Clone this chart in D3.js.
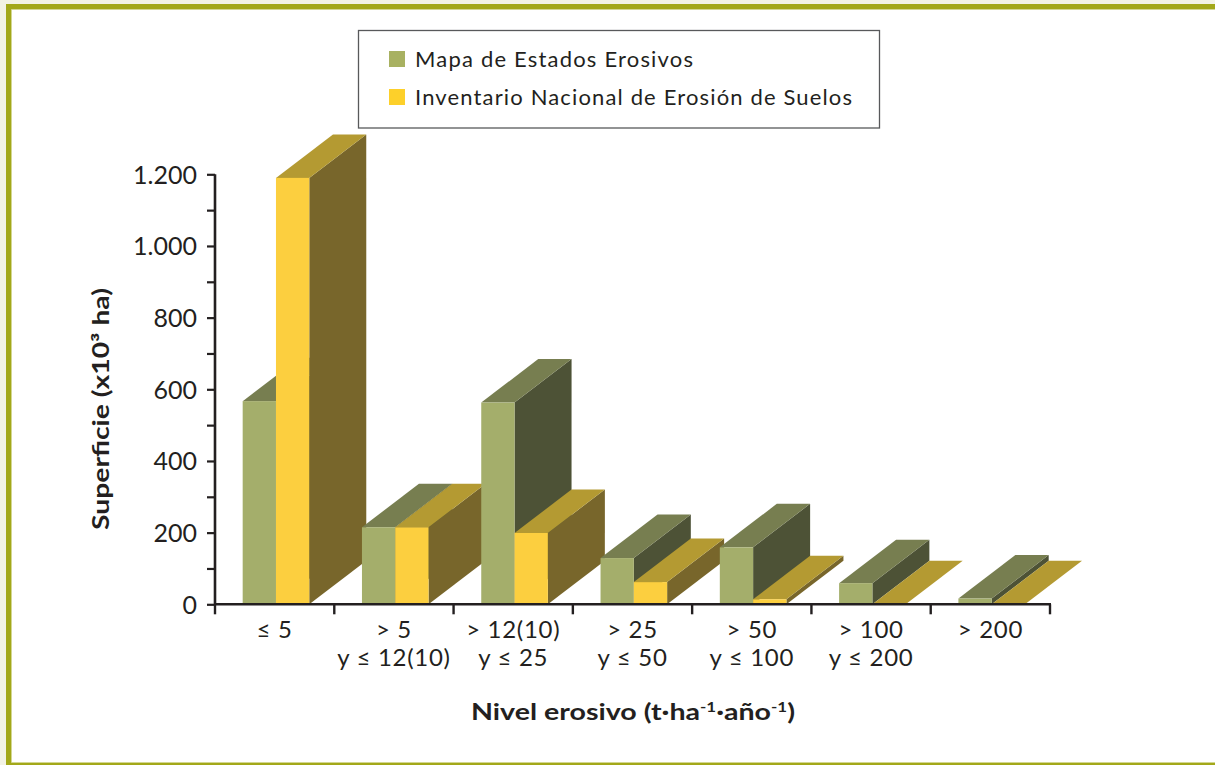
<!DOCTYPE html>
<html>
<head>
<meta charset="utf-8">
<script src="https://cdn.jsdelivr.net/npm/d3@7"></script>
<style>
  html, body { margin: 0; padding: 0; background: #f3f3e4; }
  svg { display: block; }
  text { font-family: "Lato", "Noto Sans", sans-serif; fill: #231f20; }
</style>
</head>
<body>
<svg id="chart" width="1215" height="765"></svg>
<script>
// ---- Data ----
const categoriesLine1 = ["≤ 5", "> 5", "> 12(10)", "> 25", "> 50", "> 100", "> 200"];
const categoriesLine2 = ["", "y ≤ 12(10)", "y ≤ 25", "y ≤ 50", "y ≤ 100", "y ≤ 200", ""];
const seriesNames = ["Mapa de Estados Erosivos", "Inventario Nacional de Erosión de Suelos"];
const mapaValues = [567, 215, 563, 129, 159, 59, 16];
const inventarioValues = [1190, 215, 199, 62, 14, 0, 0];
const yTickValues = [0, 100, 200, 300, 400, 500, 600, 700, 800, 900, 1000, 1100, 1200];
const yLabelValues = [0, 200, 400, 600, 800, 1000, 1200];

// ---- Styles ----
const palette = [
  { front: "#a4ae6b", top: "#777e50", side: "#4d5236", legend: "#a8b161" },
  { front: "#fccf3f", top: "#b49a32", side: "#78662b", legend: "#fdd02a" }
];
const depthX = 57, depthY = -43.5;

const svg = d3.select("#chart");

// frame
svg.append("rect").attr("x", 0).attr("y", 0).attr("width", 1215).attr("height", 765).attr("fill", "#f3f3e4");
svg.append("rect").attr("x", 6).attr("y", 4).attr("width", 1209).attr("height", 761).attr("fill", "#a3a819");
svg.append("rect").attr("x", 11).attr("y", 9).attr("width", 1204).attr("height", 754).attr("fill", "#c9cd78");
svg.append("rect").attr("x", 11.8).attr("y", 9.8).attr("width", 1204).attr("height", 752.4).attr("fill", "#ffffff");

// ---- Scales ----
const x = d3.scaleBand().domain(d3.range(categoriesLine1.length)).range([215, 1050]).paddingInner(0).paddingOuter(0);
const bw = x.bandwidth();
const xSub = d3.scaleBand().domain([0, 1]).range([bw * 0.232, bw * 0.232 + 66.6]).padding(0);
const y = d3.scaleLinear().domain([0, 1200]).range([604.3, 174.3]);

// ---- Bars (3D) ----
const seriesValues = [mapaValues, inventarioValues];
const barsG = svg.append("g");
categoriesLine1.forEach((c, i) => {
  seriesValues.forEach((vals, s) => {
    const v = vals[i];
    const x0 = x(i) + xSub(s);
    const x1 = x0 + xSub.bandwidth();
    const yt = y(v), yb = y(0);
    const col = palette[s];
    const g = barsG.append("g");
    g.append("path")
      .attr("d", `M${x1},${yt}L${x1 + depthX},${yt + depthY}L${x1 + depthX},${yb + depthY}L${x1},${yb}Z`)
      .attr("fill", col.side);
    g.append("path")
      .attr("d", `M${x0},${yt}L${x0 + depthX},${yt + depthY}L${x1 + depthX},${yt + depthY}L${x1},${yt}Z`)
      .attr("fill", col.top);
    if (yb - yt > 0) {
      g.append("rect").attr("x", x0).attr("y", yt).attr("width", x1 - x0).attr("height", yb - yt).attr("fill", col.front);
    }
  });
});

// ---- Axes ----
const esLocale = d3.formatLocale({ decimal: ",", thousands: ".", grouping: [3], currency: ["", ""] });
const fmt = esLocale.format(",");
const yAxis = d3.axisLeft(y).tickValues(yTickValues).tickSize(8).tickSizeOuter(0).tickPadding(10)
  .tickFormat(d => yLabelValues.includes(d) ? fmt(d) : "");
const yG = svg.append("g").attr("transform", "translate(215,0)").call(yAxis);
yG.select(".domain").attr("stroke", "#231f20").attr("stroke-width", 2.6).attr("d", `M0,${y(1200)}V${y(0)}`);
yG.selectAll(".tick line").attr("stroke", "#231f20").attr("stroke-width", 2.2);
yG.selectAll(".tick text").attr("font-size", 25).attr("font-family", "Lato, sans-serif").attr("fill", "#231f20").attr("dy", "0.36em");

const xEdges = d3.range(categoriesLine1.length + 1).map(i => i < categoriesLine1.length ? x(i) : x(i - 1) + bw);
const xG = svg.append("g");
xG.append("path").attr("d", `M${xEdges[0] - 1},${y(0)}H${xEdges[xEdges.length - 1] + 1}`).attr("stroke", "#231f20").attr("stroke-width", 2.6).attr("fill", "none");
xG.selectAll("line.xt").data(xEdges).enter().append("line")
  .attr("x1", d => d).attr("x2", d => d).attr("y1", y(0)).attr("y2", y(0) + 10)
  .attr("stroke", "#231f20").attr("stroke-width", 2.4);
xG.selectAll("text.l1").data(categoriesLine1).enter().append("text")
  .attr("x", (d, i) => x(i) + bw / 2).attr("y", 638).attr("text-anchor", "middle").attr("font-size", 24)
  .attr("letter-spacing", 0.7).text(d => d);
xG.selectAll("text.l2").data(categoriesLine2).enter().append("text")
  .attr("x", (d, i) => x(i) + bw / 2).attr("y", 666).attr("text-anchor", "middle").attr("font-size", 24)
  .attr("letter-spacing", 0.7).text(d => d);

// axis titles
const xt = svg.append("text").attr("x", 633).attr("y", 720).attr("text-anchor", "middle")
  .attr("font-size", 22).attr("font-weight", "bold")
  .attr("textLength", 324).attr("lengthAdjust", "spacingAndGlyphs");
xt.append("tspan").text("Nivel erosivo (t·ha");
xt.append("tspan").attr("baseline-shift", "super").attr("font-size", 13).text("-1");
xt.append("tspan").text("·año");
xt.append("tspan").attr("baseline-shift", "super").attr("font-size", 13).text("-1");
xt.append("tspan").text(")");

svg.append("text").attr("transform", "translate(109,409) rotate(-90)").attr("text-anchor", "middle")
  .attr("font-size", 22).attr("font-weight", "bold")
  .attr("textLength", 242).attr("lengthAdjust", "spacingAndGlyphs").text("Superficie (x10³ ha)");

// ---- Legend ----
const lg = svg.append("g");
lg.append("rect").attr("x", 358.5).attr("y", 30.5).attr("width", 521).attr("height", 97.5)
  .attr("fill", "#ffffff").attr("stroke", "#58595b").attr("stroke-width", 1.3);
const legendLens = [278, 437];
seriesNames.forEach((n, s) => {
  const yy = 51 + s * 38;
  lg.append("rect").attr("x", 389).attr("y", yy).attr("width", 16).attr("height", 16).attr("fill", palette[s].legend);
  lg.append("text").attr("x", 415).attr("y", yy + 16).attr("font-size", 22)
    .attr("textLength", legendLens[s]).attr("lengthAdjust", "spacing").text(n);
});
</script>
</body>
</html>
